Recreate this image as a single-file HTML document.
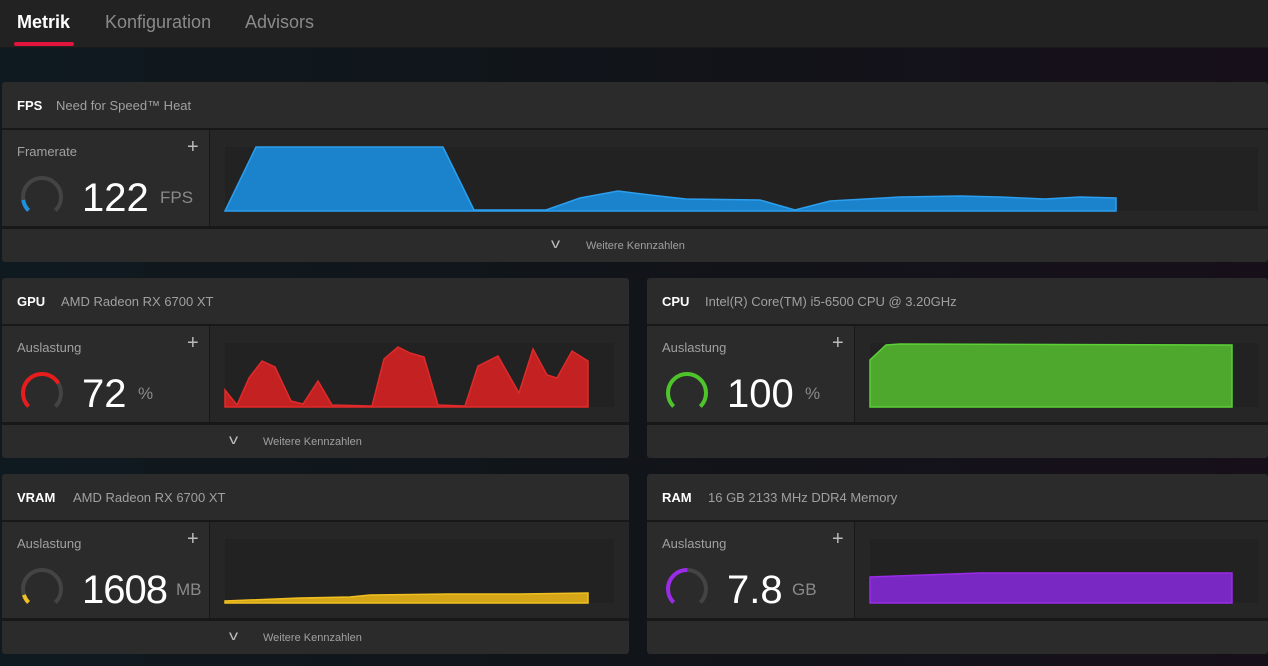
<!DOCTYPE html>
<html><head><meta charset="utf-8"><style>
*{margin:0;padding:0;box-sizing:border-box}
body{width:1268px;height:666px;overflow:hidden;background:linear-gradient(90deg,#0f1a20 0%,#111419 50%,#170f1a 100%);font-family:"Liberation Sans",sans-serif;position:relative}
.top{position:absolute;left:0;top:0;width:1268px;height:48px;background:#222222;border-bottom:1px solid #1a1a1a}
.tab{position:absolute;top:12px;font-size:18px;color:#8a8a8a}
.card{position:absolute;background:#181818;border-radius:3px;overflow:hidden}
.hd{position:absolute;left:0;top:0;right:0;height:46px;background:#2b2b2b}
.hd b{position:absolute;left:15px;top:16px;font-size:13px;color:#fff;font-weight:bold}
.hd span{position:absolute;top:16px;font-size:13px;color:#a0a0a0}
.lp{position:absolute;left:0;top:48px;width:207px;height:96px;background:#2b2b2b}
.rp{position:absolute;left:208px;top:48px;right:0;height:96px;background:#262626}
.ft{position:absolute;left:0;top:147px;right:0;height:33px;background:#2b2b2b}
.lbl{position:absolute;left:15px;top:14px;font-size:13px;color:#a0a0a0}
.plus{position:absolute;left:185px;top:6px;font-size:20px;color:#bbb}
.val{position:absolute;left:80px;top:46px;font-size:40px;color:#fff;font-weight:300}
.unit{position:absolute;top:58px;font-size:17px;color:#8a8a8a}
.g{position:absolute;left:17px;top:44px}
.more{position:absolute;top:11px;font-size:11px;color:#a0a0a0}
.chev{position:absolute;top:6px;font-size:14px;color:#bbb;transform:scaleX(1.3)}
svg.ch{position:absolute}
</style></head><body>
<div class="top">
<div class="tab" style="left:17px;color:#fff;font-weight:bold">Metrik</div>
<div style="position:absolute;left:14px;top:42px;width:60px;height:4px;background:#e0143c;border-radius:2px"></div>
<div class="tab" style="left:105px">Konfiguration</div>
<div class="tab" style="left:245px">Advisors</div>
</div>

<div class="card" style="left:2px;top:82px;width:1266px;height:180px">
<div class="hd"><b>FPS</b><span style="left:54px">Need for Speed™ Heat</span></div>
<div class="lp"><div class="lbl">Framerate</div><div class="plus">+</div>
<svg class="g" width="46" height="46"><g transform="rotate(135 23 23)"><circle cx="23" cy="23" r="19" fill="none" stroke="#444" stroke-width="4" stroke-dasharray="89.5 200"/><circle cx="23" cy="23" r="19" fill="none" stroke="#1e90e0" stroke-width="4" stroke-dasharray="12 200"/></g></svg>
<div class="val">122</div><div class="unit" style="left:158px">FPS</div></div>
<div class="rp"></div>
<div class="ft"><div class="chev" style="left:550px">v</div><div class="more" style="left:584px">Weitere Kennzahlen</div></div>
</div>
<svg class="ch" style="left:0;top:0" width="1268" height="666">
<rect x="225" y="147" width="1033" height="64" fill="#222"/>
<polygon points="225,211 256,147 443,147 474,210 546,210 580,198 618,191 650,195 686,199 760,200 795,210 830,201 900,197 960,196 1000,197 1045,199 1080,197 1116,198 1116,211" fill="#1b82cc" stroke="#2b9ff0" stroke-width="1.5"/>
</svg>

<div class="card" style="left:2px;top:278px;width:627px;height:180px">
<div class="hd"><b>GPU</b><span style="left:59px">AMD Radeon RX 6700 XT</span></div>
<div class="lp"><div class="lbl">Auslastung</div><div class="plus">+</div>
<svg class="g" width="46" height="46"><g transform="rotate(135 23 23)"><circle cx="23" cy="23" r="19" fill="none" stroke="#444" stroke-width="4" stroke-dasharray="89.5 200"/><circle cx="23" cy="23" r="19" fill="none" stroke="#e81c1c" stroke-width="4" stroke-dasharray="64.5 200"/></g></svg>
<div class="val">72</div><div class="unit" style="left:136px">%</div></div>
<div class="rp"></div>
<div class="ft"><div class="chev" style="left:228px">v</div><div class="more" style="left:261px">Weitere Kennzahlen</div></div>
</div>

<div class="card" style="left:647px;top:278px;width:621px;height:180px">
<div class="hd"><b>CPU</b><span style="left:58px">Intel(R) Core(TM) i5-6500 CPU @ 3.20GHz</span></div>
<div class="lp"><div class="lbl">Auslastung</div><div class="plus">+</div>
<svg class="g" width="46" height="46"><g transform="rotate(135 23 23)"><circle cx="23" cy="23" r="19" fill="none" stroke="#444" stroke-width="4" stroke-dasharray="89.5 200"/><circle cx="23" cy="23" r="19" fill="none" stroke="#4cc42a" stroke-width="4" stroke-dasharray="89.5 200"/></g></svg>
<div class="val">100</div><div class="unit" style="left:158px">%</div></div>
<div class="rp"></div>
<div class="ft"></div>
</div>

<div class="card" style="left:2px;top:474px;width:627px;height:180px">
<div class="hd"><b>VRAM</b><span style="left:71px">AMD Radeon RX 6700 XT</span></div>
<div class="lp"><div class="lbl">Auslastung</div><div class="plus">+</div>
<svg class="g" width="46" height="46"><g transform="rotate(135 23 23)"><circle cx="23" cy="23" r="19" fill="none" stroke="#444" stroke-width="4" stroke-dasharray="89.5 200"/><circle cx="23" cy="23" r="19" fill="none" stroke="#f0c020" stroke-width="4" stroke-dasharray="9 200"/></g></svg>
<div class="val" style="letter-spacing:-1px">1608</div><div class="unit" style="left:174px">MB</div></div>
<div class="rp"></div>
<div class="ft"><div class="chev" style="left:228px">v</div><div class="more" style="left:261px">Weitere Kennzahlen</div></div>
</div>

<div class="card" style="left:647px;top:474px;width:621px;height:180px">
<div class="hd"><b>RAM</b><span style="left:61px">16 GB 2133 MHz DDR4 Memory</span></div>
<div class="lp"><div class="lbl">Auslastung</div><div class="plus">+</div>
<svg class="g" width="46" height="46"><g transform="rotate(135 23 23)"><circle cx="23" cy="23" r="19" fill="none" stroke="#444" stroke-width="4" stroke-dasharray="89.5 200"/><circle cx="23" cy="23" r="19" fill="none" stroke="#9a2be8" stroke-width="4" stroke-dasharray="45 200"/></g></svg>
<div class="val">7.8</div><div class="unit" style="left:145px">GB</div></div>
<div class="rp"></div>
<div class="ft"></div>
</div>

<svg class="ch" style="left:0;top:0" width="1268" height="666">
<rect x="225" y="343" width="389" height="64" fill="#222"/>
<polygon points="225,390 237,405 249,378 262,361 275,367 291,401 303,404 318,381 332,405 372,406 384,359 398,347 410,353 424,357 438,405 465,406 478,366 498,356 519,393 533,349 547,375 557,378 572,351 588,361 588,407 225,407" fill="#c42222" stroke="#e02a2a" stroke-width="1.5"/>
<rect x="870" y="343" width="389" height="64" fill="#222"/>
<polygon points="870,407 870,360 886,345 900,344 1232,345 1232,407" fill="#4ea82e" stroke="#5cd036" stroke-width="1.5"/>
<rect x="225" y="539" width="389" height="64" fill="#222"/>
<polygon points="225,603 225,601 300,598 350,597 370,595 450,594 520,594 588,593 588,603" fill="#d4a618" stroke="#f0c020" stroke-width="1.5"/>
<rect x="870" y="539" width="389" height="64" fill="#222"/>
<polygon points="870,603 870,577 980,573 1232,573 1232,603" fill="#7a28c4" stroke="#9a2be8" stroke-width="1.5"/>
</svg>
</body></html>
